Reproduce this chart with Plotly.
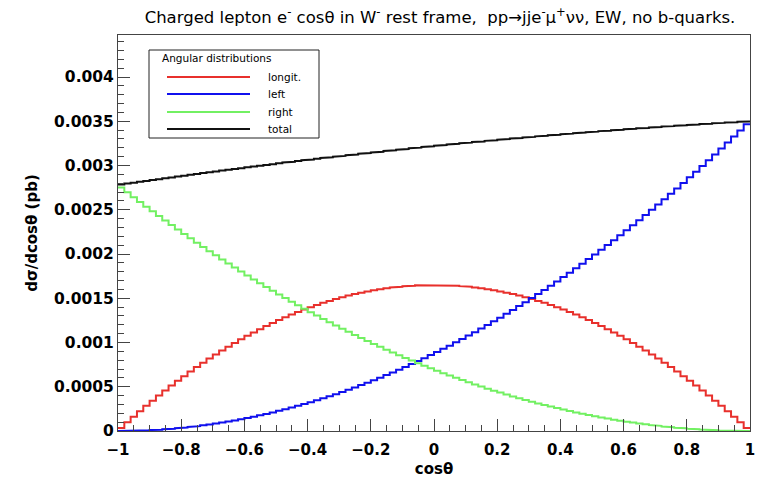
import numpy as np
import plotly.graph_objects as go

# Histogram binning: 100 bins in cos(theta) from -1 to 1
n_bins = 100
x_min, x_max = -1.0, 1.0

# Bin contents, in units of 1e-3 pb, ordered from cos(theta) = -1 to +1
longit = [
    0.033, 0.098, 0.161, 0.223, 0.284, 0.343, 0.401, 0.458, 0.513, 0.567,
    0.620, 0.672, 0.722, 0.771, 0.818, 0.864, 0.909, 0.953, 0.995, 1.036,
    1.076, 1.114, 1.151, 1.187, 1.221, 1.254, 1.286, 1.316, 1.345, 1.373,
    1.399, 1.424, 1.448, 1.470, 1.491, 1.511, 1.530, 1.547, 1.563, 1.577,
    1.590, 1.602, 1.613, 1.622, 1.630, 1.637, 1.642, 1.646, 1.649, 1.650,
    1.650, 1.649, 1.646, 1.642, 1.637, 1.630, 1.622, 1.613, 1.602, 1.590,
    1.577, 1.563, 1.547, 1.530, 1.511, 1.491, 1.470, 1.448, 1.424, 1.399,
    1.373, 1.345, 1.316, 1.286, 1.254, 1.221, 1.187, 1.151, 1.114, 1.076,
    1.036, 0.995, 0.953, 0.909, 0.864, 0.818, 0.771, 0.722, 0.672, 0.620,
    0.567, 0.513, 0.458, 0.401, 0.343, 0.284, 0.223, 0.161, 0.098, 0.033,
]

left = [
    0.0001, 0.0008, 0.0022, 0.0043, 0.0071, 0.0106, 0.0148, 0.0197, 0.0253, 0.0316,
    0.0386, 0.0463, 0.0547, 0.0638, 0.0736, 0.0841, 0.0953, 0.1072, 0.1198, 0.1331,
    0.1471, 0.1618, 0.1772, 0.1933, 0.2101, 0.2276, 0.2458, 0.2647, 0.2843, 0.3046,
    0.3256, 0.3473, 0.3697, 0.3928, 0.4166, 0.4411, 0.4663, 0.4922, 0.5188, 0.5461,
    0.5741, 0.6028, 0.6322, 0.6623, 0.6931, 0.7246, 0.7568, 0.7897, 0.8233, 0.8576,
    0.8926, 0.9283, 0.9647, 1.0018, 1.0396, 1.0781, 1.1173, 1.1572, 1.1978, 1.2391,
    1.2811, 1.3238, 1.3672, 1.4113, 1.4561, 1.5016, 1.5478, 1.5947, 1.6423, 1.6906,
    1.7396, 1.7893, 1.8397, 1.8908, 1.9426, 1.9951, 2.0483, 2.1022, 2.1568, 2.2121,
    2.2681, 2.3248, 2.3822, 2.4403, 2.4991, 2.5586, 2.6188, 2.6797, 2.7413, 2.8036,
    2.8666, 2.9303, 2.9947, 3.0598, 3.1256, 3.1921, 3.2593, 3.3272, 3.3958, 3.4651,
]

right = [
    2.7523, 2.6972, 2.6427, 2.5888, 2.5354, 2.4826, 2.4303, 2.3786, 2.3275, 2.2769,
    2.2268, 2.1774, 2.1284, 2.0801, 2.0322, 1.9850, 1.9383, 1.8921, 1.8465, 1.8015,
    1.7570, 1.7131, 1.6697, 1.6269, 1.5847, 1.5430, 1.5018, 1.4612, 1.4212, 1.3817,
    1.3428, 1.3044, 1.2666, 1.2294, 1.1927, 1.1565, 1.1210, 1.0859, 1.0515, 1.0175,
    0.9842, 0.9514, 0.9191, 0.8874, 0.8563, 0.8257, 0.7957, 0.7662, 0.7373, 0.7090,
    0.6812, 0.6539, 0.6272, 0.6011, 0.5755, 0.5505, 0.5260, 0.5021, 0.4788, 0.4560,
    0.4337, 0.4121, 0.3909, 0.3704, 0.3503, 0.3309, 0.3120, 0.2936, 0.2758, 0.2586,
    0.2419, 0.2258, 0.2102, 0.1952, 0.1808, 0.1669, 0.1535, 0.1407, 0.1285, 0.1168,
    0.1057, 0.0951, 0.0851, 0.0757, 0.0668, 0.0584, 0.0507, 0.0434, 0.0368, 0.0306,
    0.0251, 0.0201, 0.0156, 0.0117, 0.0084, 0.0056, 0.0034, 0.0017, 0.0006, 0.0001,
]

series_names = ["longit.", "left", "right", "total"]
series_colors = ["#e8302c", "#1010ee", "#72f062", "#111111"]

x_tick_vals = [-1, -0.8, -0.6, -0.4, -0.2, 0, 0.2, 0.4, 0.6, 0.8, 1]
x_tick_text = ["\u22121", "\u22120.8", "\u22120.6", "\u22120.4", "\u22120.2", "0",
               "0.2", "0.4", "0.6", "0.8", "1"]
y_tick_vals = [0, 0.0005, 0.001, 0.0015, 0.002, 0.0025, 0.003, 0.0035, 0.004]
y_tick_text = ["0", "0.0005", "0.001", "0.0015", "0.002", "0.0025", "0.003", "0.0035", "0.004"]

# ---------------------------------------------------------------------------
unit = 1e-3
L = np.array(longit) * unit
Lf = np.array(left) * unit
R = np.array(right) * unit
T = L + Lf + R  # total is the sum of the three polarisation components
edges = np.linspace(x_min, x_max, n_bins + 1)


def step_xy(vals):
    xs, ys = [], []
    for i, v in enumerate(vals):
        xs += [edges[i], edges[i + 1]]
        ys += [v, v]
    return xs, ys


FONT = "DejaVu Sans, Verdana, sans-serif"
fig = go.Figure()
for name, vals, col in zip(series_names, [L, Lf, R, T], series_colors):
    xs, ys = step_xy(vals)
    fig.add_trace(go.Scatter(x=xs, y=ys, mode="lines", name=name,
                             line=dict(color=col, width=2), showlegend=False))

OFF = 8  # page body margin
W, H = 755, 470
ml, mr, mt, mb = 110, 13, 27, 47
pw, ph = W - ml - mr, H - mt - mb


def px(xp):
    return (xp - OFF - ml) / pw


def py(yp):
    return (H - mb - (yp - OFF)) / ph


shapes = []
annotations = []
# manual legend (ROOT TLegend style)
shapes.append(dict(type="rect", xref="paper", yref="paper",
                   x0=px(149), x1=px(319), y0=py(138), y1=py(50),
                   line=dict(color="#222", width=1), fillcolor="white", layer="above"))
annotations.append(dict(xref="paper", yref="paper", x=px(160), y=py(58),
                        text="Angular distributions", showarrow=False,
                        xanchor="left", yanchor="middle",
                        font=dict(family=FONT, size=10.5, color="black")))
row_y = [77, 94, 112, 129]
for name, col, ry in zip(series_names, series_colors, row_y):
    shapes.append(dict(type="line", xref="paper", yref="paper",
                       x0=px(167), x1=px(250), y0=py(ry), y1=py(ry),
                       line=dict(color=col, width=2), layer="above"))
    annotations.append(dict(xref="paper", yref="paper", x=px(266), y=py(ry),
                            text=name, showarrow=False, xanchor="left", yanchor="middle",
                            font=dict(family=FONT, size=10.5, color="black")))

fig.update_layout(
    width=W, height=H,
    margin=dict(l=ml, r=mr, t=mt, b=mb),
    paper_bgcolor="white", plot_bgcolor="white",
    title=dict(text="Charged lepton e<sup>-</sup> cos\u03b8 in W<sup>-</sup> rest frame,  "
                    "pp\u2192jje<sup>-</sup>\u03bc<sup>+</sup>\u03bd\u03bd, EW, no b-quarks.",
               x=(440 - OFF) / W, xanchor="center", y=1 - 3.5 / H, yanchor="top",
               yref="container",
               font=dict(family=FONT, size=16.5, color="black")),
    shapes=shapes, annotations=annotations,
    showlegend=False,
)
fig.update_xaxes(
    range=[x_min, x_max], showgrid=False, zeroline=False,
    showline=True, mirror=True, linecolor="#444", linewidth=1,
    ticks="inside", ticklen=12, tickcolor="#444", tickwidth=1,
    tickvals=x_tick_vals, ticktext=x_tick_text,
    tickfont=dict(family=FONT, size=15, color="black", weight="bold"),
    ticklabelstandoff=5,
    minor=dict(dtick=0.05, tick0=0, ticks="inside", ticklen=6, tickcolor="#444", showgrid=False),
    title=dict(text="<b>cos\u03b8</b>", standoff=5,
               font=dict(family=FONT, size=15, color="black")),
    automargin=False,
)
fig.update_yaxes(
    range=[0, 0.004475], showgrid=False, zeroline=False,
    showline=True, mirror=True, linecolor="#444", linewidth=1,
    ticks="inside", ticklen=12, tickcolor="#444", tickwidth=1,
    tickvals=y_tick_vals, ticktext=y_tick_text,
    tickfont=dict(family=FONT, size=15.5, color="black", weight="bold"),
    minor=dict(dtick=0.0001, tick0=0, ticks="inside", ticklen=6, tickcolor="#444", showgrid=False),
    title=dict(text="<b>d\u03c3/dcos\u03b8 (pb)</b>", standoff=12,
               font=dict(family=FONT, size=15, color="black")),
    automargin=False,
)

fig.write_html("out.html")
